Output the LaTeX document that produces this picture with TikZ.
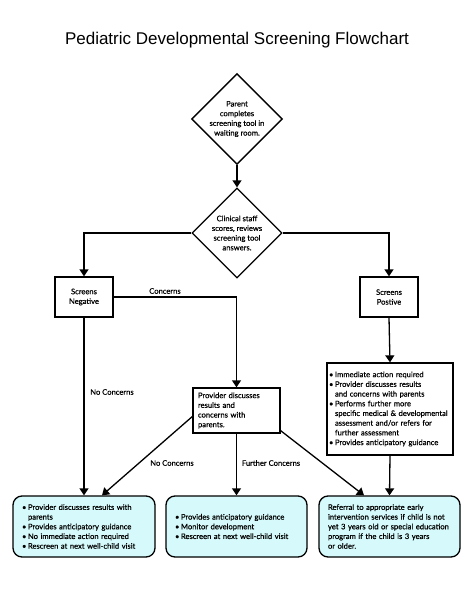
\documentclass[tikz,border=0pt]{standalone}
\usepackage{fontspec}
\setmainfont{Lato}[FakeBold=0.5]
\newfontfamily\titlefont{Liberation Sans}
\usetikzlibrary{arrows.meta,shapes.geometric}
\definecolor{boxfill}{HTML}{D6FAFB}
\tikzset{
  arr/.style={line width=1.3pt,-{Triangle[width=9pt,length=7pt]}},
  txt/.style={font=\fontsize{7.6}{9.7}\selectfont},
  dia/.style={diamond,draw,line width=1.3pt,minimum width=90pt,minimum height=90pt,inner sep=0pt,align=center,txt},
  rbox/.style={rectangle,draw,line width=1.3pt,inner sep=0pt,txt},
  cbox/.style={rectangle,rounded corners=9pt,draw,line width=1.3pt,fill=boxfill,inner sep=0pt,txt},
  lbl/.style={txt,inner sep=1pt}
}
\newcommand{\bl}{\makebox[6pt][l]{\textbullet}}
\newcommand{\ind}{\hspace*{6pt}}
\begin{document}
\begin{tikzpicture}[x=1pt,y=-1pt]
\useasboundingbox[fill=white] (0,0) rectangle (474,589);
\node[font=\titlefont\fontsize{17}{20}\selectfont] (title) at (237,40) {Pediatric Developmental Screening Flowchart};

\node[dia] (d1) at (237,119) {Parent\\completes\\screening tool in\\waiting room.};
\node[dia] (d2) at (237,233) {Clinical staff\\scores, reviews\\screening tool\\answers.};

\node[rbox,minimum width=58pt,minimum height=40pt,align=center] (neg) at (84,297) {Screens\\Negative};
\node[rbox,minimum width=58pt,minimum height=40pt,align=center] (pos) at (389,297) {Screens\\Postive};

\node[rbox,minimum width=87pt,minimum height=45pt,text width=77pt,align=left] (prov) at (236.5,410.5) {Provider discusses\\results and\\concerns with\\parents.};

\node[rbox,minimum width=126pt,minimum height=92pt,text width=122pt,align=left] (rb) at (390,409) {\hyphenpenalty=10000\bl Immediate action required\\\bl Provider discusses results\\\ind and concerns with parents\\\bl Performs further more\\\ind specific medical \& developmental\\\ind assessment and/or refers for\\\ind further assessment\\\bl Provides anticipatory guidance};

\node[cbox,minimum width=142pt,minimum height=61pt,text width=124pt,align=left] (b1) at (84,526.5) {\bl Provider discusses results with\\\ind parents\\\bl Provides anticipatory guidance\\\bl No immediate action required\\\bl Rescreen at next well-child visit};
\node[cbox,minimum width=141pt,minimum height=61pt,text width=123pt,align=left] (b2) at (236.5,526.5) {\bl Provides anticipatory guidance\\\bl Monitor development\\\bl Rescreen at next well-child visit};
\node[cbox,minimum width=141pt,minimum height=61pt,text width=123pt,align=left] (b3) at (389.5,526.5) {Referral to appropriate early\\intervention services if child is not\\yet 3 years old or special education\\program if the child is 3 years\\or older.};

\draw[arr] (d1.south) -- (d2.north);
\draw[arr] (d2.west) -| (neg.north);
\draw[arr] (d2.east) -| (pos.north);
\draw[arr] (neg.east) -| (prov.north);
\draw[arr] (neg.south) -- (b1.north);
\draw[arr] ([yshift=-6pt]prov.west) -- ([xshift=18pt]b1.north);
\draw[arr] (prov.south) -- (b2.north);
\draw[arr] ([yshift=3pt]prov.south east) -- ([xshift=-25.5pt]b3.north);
\draw[arr] (pos.south) -- (rb.north);
\draw[arr] (rb.south) -- (b3.north);

\node[lbl] (lc) at (165,291) {Concerns};
\node[lbl] (lnc1) at (112,392) {No Concerns};
\node[lbl] (lnc2) at (172,463) {No Concerns};
\node[lbl] (lfc) at (271,463) {Further Concerns};
\end{tikzpicture}
\end{document}
